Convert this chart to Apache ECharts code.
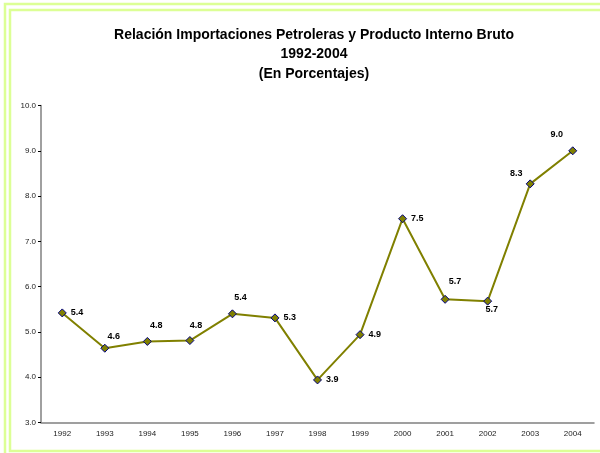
<!DOCTYPE html>
<html>
<head>
<meta charset="utf-8">
<script src="https://cdn.jsdelivr.net/npm/echarts@6/dist/echarts.min.js"></script>
<style>
  html, body { margin: 0; padding: 0; background: #fff; }
  #chart { width: 600px; height: 453px; }
</style>
</head>
<body>
<div id="chart"></div>
<script>
// data
const years = ['1992', '1993', '1994', '1995', '1996', '1997', '1998', '1999', '2000', '2001', '2002', '2003', '2004']
const ratio = [5.42, 4.64, 4.79, 4.81, 5.40, 5.31, 3.94, 4.94, 7.50, 5.72, 5.68, 8.27, 9.00]
// where each value label sits, relative to its point
const labelOffsets = [
  [0, 0], [9, -12], [9, -16], [6, -15], [8, -16], [0, 0], [0, 0],
  [0, 0], [0, 0], [10, -18], [4, 8], [-14, -10], [-16, -16]
]
const rightLabels = [0, 5, 6, 7, 8]

const chart = echarts.init(document.getElementById('chart'))

const seriesData = ratio.map((v, i) => {
  if (rightLabels.indexOf(i) >= 0) {
    return { value: v, label: { position: 'right', distance: 4 } }
  }
  return { value: v, label: { position: 'inside', offset: labelOffsets[i] } }
})

chart.setOption({
  backgroundColor: '#fff',
  animation: false,
  graphic: [
    {
      type: 'rect',
      shape: { x: 5, y: 4, width: 620, height: 470 },
      style: { fill: 'none', stroke: '#dcff95', lineWidth: 2.5 }
    },
    {
      type: 'rect',
      shape: { x: 10, y: 10, width: 610, height: 441 },
      style: { fill: 'none', stroke: '#dcff95', lineWidth: 2.5 }
    }
  ],
  title: {
    text: 'Relación Importaciones Petroleras y Producto Interno Bruto\n1992-2004\n(En Porcentajes)',
    left: 309,
    textAlign: 'center',
    top: 20,
    textStyle: {
      fontFamily: 'Liberation Sans, Arial, sans-serif',
      fontSize: 14,
      fontWeight: 'bold',
      color: '#000',
      lineHeight: 19.5
    }
  },
  grid: {
    left: 41,
    right: 6,
    top: 105.5,
    bottom: 30.5,
    containLabel: false
  },
  xAxis: {
    type: 'category',
    data: years,
    boundaryGap: true,
    axisLine: { lineStyle: { color: '#808080', width: 1.5 } },
    axisTick: { alignWithLabel: false, length: 3, lineStyle: { color: '#000' } },
    axisLabel: {
      fontFamily: 'Liberation Sans, Arial, sans-serif',
      fontSize: 8,
      color: '#222',
      margin: 7
    }
  },
  yAxis: {
    type: 'value',
    min: 3,
    max: 10,
    interval: 1,
    splitLine: { show: false },
    axisLine: { show: true, lineStyle: { color: '#808080', width: 1.5 } },
    axisTick: { show: true, length: 3, lineStyle: { color: '#000' } },
    axisLabel: {
      fontFamily: 'Liberation Sans, Arial, sans-serif',
      fontSize: 8,
      color: '#222',
      margin: 5,
      formatter: v => v.toFixed(1)
    }
  },
  series: [{
    type: 'line',
    data: seriesData,
    symbol: 'diamond',
    symbolSize: 8,
    lineStyle: { color: '#808000', width: 2 },
    itemStyle: { color: '#808000', borderColor: '#000080', borderWidth: 1 },
    label: {
      show: true,
      fontFamily: 'Liberation Sans, Arial, sans-serif',
      fontSize: 9,
      fontWeight: 'bold',
      color: '#000',
      formatter: p => p.value.toFixed(1)
    }
  }]
})
</script>
</body>
</html>
